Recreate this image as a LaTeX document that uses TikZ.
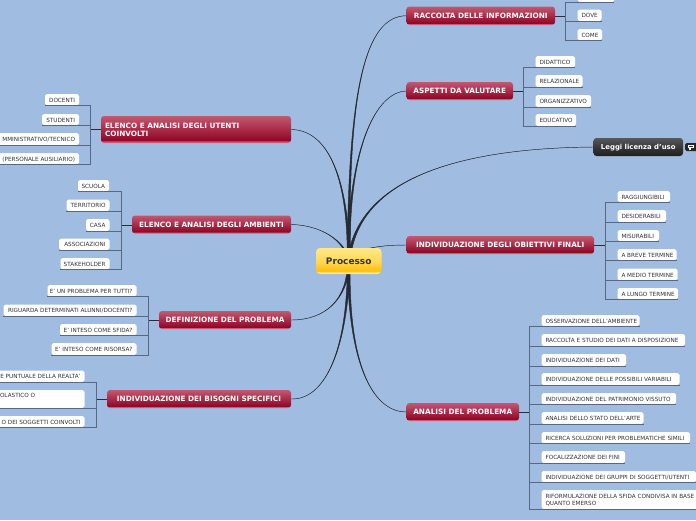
\documentclass[tikz,border=0pt]{standalone}
\usepackage{fontspec}
\setmainfont{DejaVu Sans}
\usetikzlibrary{backgrounds}
\definecolor{sky}{RGB}{160,189,225}
\definecolor{limbcol}{RGB}{38,42,52}
\definecolor{twigcol}{RGB}{88,104,130}
\definecolor{stemcol}{RGB}{38,46,62}
\definecolor{leaftext}{RGB}{50,50,50}
\definecolor{redtop}{RGB}{194,88,112}
\definecolor{redmid}{RGB}{170,42,72}
\definecolor{redlow}{RGB}{142,8,40}
\definecolor{redrim}{RGB}{200,92,118}
\definecolor{roottop}{RGB}{255,232,135}
\definecolor{rootmid}{RGB}{255,218,90}
\definecolor{rootlow}{RGB}{255,192,10}
\definecolor{rootrim}{RGB}{255,232,130}
\definecolor{darktop}{RGB}{88,88,88}
\definecolor{darkmid}{RGB}{56,56,56}
\definecolor{darklow}{RGB}{30,30,30}
\pgfdeclareverticalshading{redbtn}{100bp}{color(0bp)=(redrim);color(28bp)=(redrim);color(30bp)=(redlow);color(50bp)=(redmid);color(75bp)=(redtop);color(100bp)=(redtop)}
\pgfdeclareverticalshading{rootbtn}{100bp}{color(0bp)=(rootrim);color(28bp)=(rootrim);color(31bp)=(rootlow);color(50bp)=(rootmid);color(75bp)=(roottop);color(100bp)=(roottop)}
\pgfdeclareverticalshading{darkbtn}{100bp}{color(0bp)=(darklow);color(25bp)=(darklow);color(50bp)=(darkmid);color(75bp)=(darktop);color(100bp)=(darktop)}
\newcommand\txtdrop{-1.1pt}
\tikzset{
  leaf/.style={fill=white,rounded corners=1.8pt,inner ysep=0pt,text=leaftext,
    font=\fontsize{5.7}{7.4}\selectfont},
  topic/.style={shading=redbtn,rounded corners=3pt,inner ysep=0pt,text=white,
    font=\fontsize{7.3}{8.6}\selectfont\bfseries},
  rootnode/.style={shading=rootbtn,rounded corners=4pt,inner ysep=0pt,text=black!80,
    font=\fontsize{9}{10}\selectfont\bfseries},
  license/.style={shading=darkbtn,rounded corners=3pt,inner ysep=0pt,text=white,
    font=\fontsize{6.9}{8.6}\selectfont\bfseries},
  limb/.style={draw=limbcol,fill=limbcol,line width=0.45pt},
  twig/.style={draw=twigcol,line width=0.8pt},
  stem/.style={draw=stemcol,line width=0.9pt},
}
% [style]{name}{x1}{y1}{x2}{y2}{l/r/c}{text}
\newcommand\bx[8][leaf]{%
  \pgfmathsetlengthmacro\bxw{#5-#3}%
  \pgfmathsetlengthmacro\bxh{#6-#4}%
  \pgfmathsetlengthmacro\bxi{#5-#3-8}%
  \node[#1,minimum width=\bxw,minimum height=\bxh,inner xsep=0pt] (#2) at ({(#3+#5)/2},{(#4+#6)/2})
    {\makebox[\bxw][c]{\makebox[\bxi][#7]{\raisebox{\txtdrop}[\height][\depth]{\begin{tabular}{@{}#7@{}}#8\end{tabular}}}}};}
\newcommand\limbto[4]{%
  \draw[limb] ([xshift=-1.5pt]root.center) .. controls (#2) and (#3) .. (#1.#4)
     .. controls (#3) and (#2) .. ([xshift=1.5pt]root.center) -- cycle;}
\renewcommand\arraystretch{1}
\setlength\tabcolsep{0pt}
\begin{document}
\begin{tikzpicture}[x=1pt,y=-1pt]
\useasboundingbox (0,0) rectangle (696,520);
\begin{scope}[on background layer]
\fill[sky] (0,0) rectangle (696,520);
\end{scope}

\bx[rootnode]{root}{316}{248}{381.5}{274}{c}{Processo}

% right topics
\bx[topic]{raccolta}{406.5}{6.5}{555}{25}{c}{RACCOLTA DELLE INFORMAZIONI}
\bx[topic]{aspetti}{406.5}{82}{513}{100}{c}{ASPETTI DA VALUTARE}
\bx[license]{leggi}{593.5}{138}{683}{156}{c}{Leggi licenza d'uso}
\bx[topic]{obiettivi}{406.5}{236}{594}{254}{c}{INDIVIDUAZIONE DEGLI OBIETTIVI FINALI}
\bx[topic]{analisi}{406.5}{403}{519}{421}{c}{ANALISI DEL PROBLEMA}
% left topics
\bx[topic]{utenti}{101}{116}{291}{143}{l}{ELENCO E ANALISI DEGLI UTENTI\\COINVOLTI}
\bx[topic]{ambienti}{132}{215.5}{291}{233.5}{c}{ELENCO E ANALISI DEGLI AMBIENTI}
\bx[topic]{definizione}{159}{311}{291}{329}{c}{DEFINIZIONE DEL PROBLEMA}
\bx[topic]{bisogni}{107}{390}{291}{408}{c}{INDIVIDUAZIONE DEI BISOGNI SPECIFICI}

% license icon
\fill[black!85,rounded corners=1.5pt] (685,143) rectangle (698,151);
\fill[white] (688,145) rectangle (694,148);
\fill[white] (689,148) rectangle (690.5,149.5);
\fill[black!85] (689,146) rectangle (693,147);

% leaves: raccolta
\bx{r0}{578}{-9}{614}{2.5}{l}{}
\bx{r1}{577.5}{9.5}{601.5}{21}{l}{DOVE}
\bx{r2}{577.5}{29}{602}{40.5}{l}{COME}
% aspetti
\bx{a1}{535.5}{56}{575}{67.5}{l}{DIDATTICO}
\bx{a2}{535.5}{75}{582.5}{87}{l}{RELAZIONALE}
\bx{a3}{535.5}{95}{591}{107}{l}{ORGANIZZATIVO}
\bx{a4}{535.5}{114}{576}{126}{l}{EDUCATIVO}
% obiettivi
\bx{o1}{617.5}{191}{670}{202}{l}{RAGGIUNGIBILI}
\bx{o2}{617.5}{210}{666}{222}{l}{DESIDERABILI}
\bx{o3}{617.5}{230}{659}{241}{l}{MISURABILI}
\bx{o4}{617.5}{249}{676.5}{260.5}{l}{A BREVE TERMINE}
\bx{o5}{617.5}{268.5}{677.5}{280.5}{l}{A MEDIO TERMINE}
\bx{o6}{617.5}{288}{678}{299.5}{l}{A LUNGO TERMINE}
% analisi
\bx{p1}{541.5}{315}{639.5}{326}{l}{OSSERVAZIONE DELL'AMBIENTE}
\bx{p2}{541.5}{334}{685}{346}{l}{RACCOLTA E STUDIO DEI DATI A DISPOSIZIONE}
\bx{p3}{541.5}{354}{626}{366}{l}{INDIVIDUAZIONE DEI DATI}
\bx{p4}{541.5}{373}{679.5}{385}{l}{INDIVIDUAZIONE DELLE POSSIBILI VARIABILI}
\bx{p5}{541.5}{393}{676}{404.5}{l}{INDIVIDUAZIONE DEL PATRIMONIO VISSUTO}
\bx{p6}{541.5}{412}{643.5}{424}{l}{ANALISI DELLO STATO DELL'ARTE}
\bx{p7}{541.5}{432}{690}{443.5}{l}{RICERCA SOLUZIONI PER PROBLEMATICHE SIMILI}
\bx{p8}{541.5}{451}{625}{463}{l}{FOCALIZZAZIONE DEI FINI}
\bx{p9}{541.5}{471}{696}{482.5}{l}{INDIVIDUAZIONE DEI GRUPPI DI SOGGETTI/UTENTI}
\bx{p10}{541.5}{490}{715}{509}{l}{RIFORMULAZIONE DELLA SFIDA CONDIVISA IN BASE\\QUANTO EMERSO}
% utenti
\bx{u1}{45}{94}{79}{105.5}{r}{DOCENTI}
\bx{u2}{42}{114}{79}{125}{r}{STUDENTI}
\bx{u3}{-20}{133}{79}{145}{r}{MMINISTRATIVO/TECNICO}
\bx{u4}{-30}{153}{79}{164.5}{r}{(PERSONALE AUSILIARIO)}
% ambienti
\bx{e1}{78}{180}{109}{191.5}{r}{SCUOLA}
\bx{e2}{66.5}{199.5}{109.5}{211}{r}{TERRITORIO}
\bx{e3}{86}{219}{109.5}{231}{r}{CASA}
\bx{e4}{59}{238.5}{109.5}{250}{r}{ASSOCIAZIONI}
\bx{e5}{60.5}{258}{109.5}{269.5}{r}{STAKEHOLDER}
% definizione
\bx{d1}{47.5}{285}{136.5}{296.5}{r}{E' UN PROBLEMA PER TUTTI?}
\bx{d2}{3.5}{304.5}{136.5}{316}{r}{RIGUARDA DETERMINATI ALUNNI/DOCENTI?}
\bx{d3}{60}{324}{136.5}{335.5}{r}{E' INTESO COME SFIDA?}
\bx{d4}{51.5}{343}{136.5}{355}{r}{E' INTESO COME RISORSA?}
% bisogni
\bx{b1}{-30}{370.5}{84.5}{382}{r}{E PUNTUALE DELLA REALTA'}
\bx{b2}{-4}{390}{84.5}{408}{l}{OLASTICO O\\\phantom{X}}
\bx{b3}{-30}{416}{84.5}{427}{r}{O DEI SOGGETTI COINVOLTI}

% junctions
\coordinate (jr) at (565,16);
\coordinate (ja) at (523,91);
\coordinate (jo) at (605,245);
\coordinate (jp) at (529,412);
\coordinate (ju) at (90.5,129.5);
\coordinate (je) at (121.5,225);
\coordinate (jd) at (148.5,320);
\coordinate (jb) at (96.5,399);

\foreach \j/\t in {jr/raccolta,ja/aspetti,jo/obiettivi,jp/analisi}
  \draw[stem] (\t.east |- \j) -- (\j);
\foreach \j/\t in {ju/utenti,je/ambienti,jd/definizione,jb/bisogni}
  \draw[stem] (\t.west |- \j) -- (\j);
\foreach \j/\l in {jr/r0,jr/r1,jr/r2,ja/a1,ja/a2,ja/a3,ja/a4,
  jo/o1,jo/o2,jo/o3,jo/o4,jo/o5,jo/o6,
  jp/p1,jp/p2,jp/p3,jp/p4,jp/p5,jp/p6,jp/p7,jp/p8,jp/p9,jp/p10}
  \draw[twig] (\j) |- (\l.south east);
\foreach \j/\l in {ju/u1,ju/u2,ju/u3,ju/u4,je/e1,je/e2,je/e3,je/e4,je/e5,
  jd/d1,jd/d2,jd/d3,jd/d4,jb/b1,jb/b2,jb/b3}
  \draw[twig] (\j) |- (\l.south west);

\begin{scope}[on background layer]
\limbto{raccolta}{348,90}{365,16}{west}
\limbto{aspetti}{348,150}{375,92}{west}
\limbto{leggi}{358,170}{480,148}{west}
\limbto{obiettivi}{352,250}{375,245}{west}
\limbto{analisi}{348,370}{375,412}{west}
\limbto{utenti}{348,170}{325,130}{east}
\limbto{ambienti}{345,240}{320,225}{east}
\limbto{definizione}{348,300}{325,320}{east}
\limbto{bisogni}{348,350}{325,400}{east}
\end{scope}
\end{tikzpicture}
\end{document}
